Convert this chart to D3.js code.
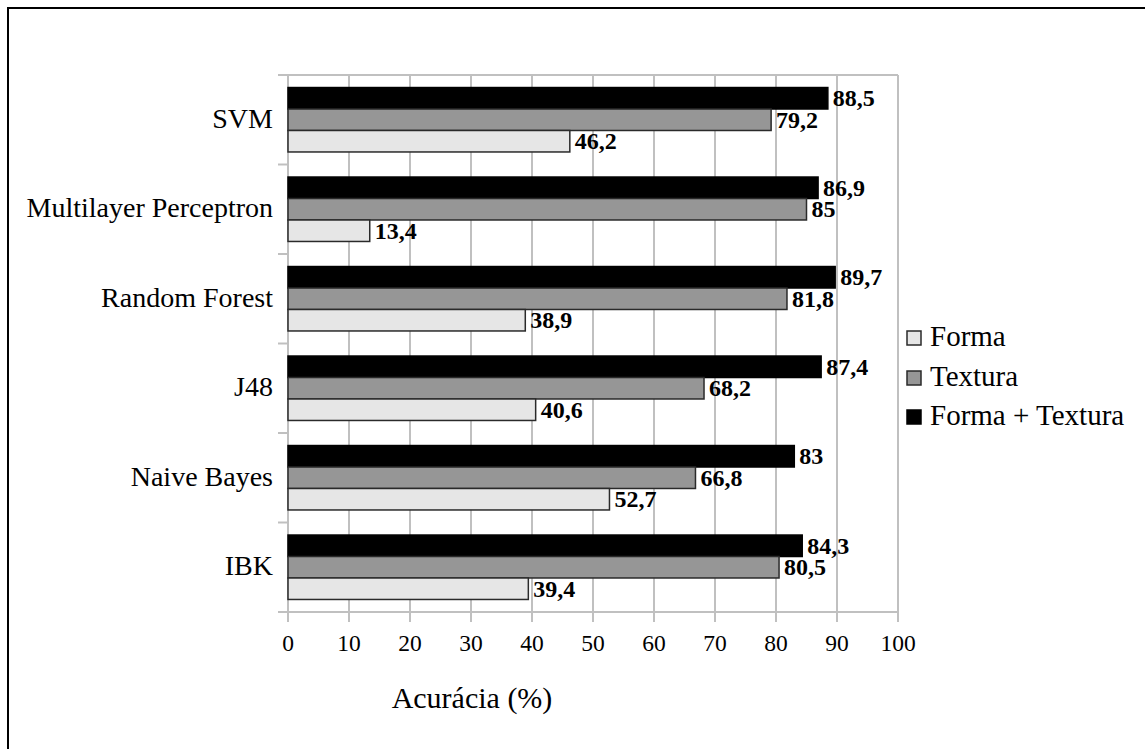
<!DOCTYPE html>
<html>
<head>
<meta charset="utf-8">
<script src="https://cdn.jsdelivr.net/npm/d3@7"></script>
<style>
  html, body { margin: 0; padding: 0; background: #fff; }
  svg { display: block; font-family: "Liberation Serif", "Times New Roman", serif; }
</style>
</head>
<body>
<svg id="chart" width="1145" height="749"></svg>
<script>
// Classifier accuracy (%) for each feature set
const categories = ["SVM", "Multilayer Perceptron", "Random Forest", "J48", "Naive Bayes", "IBK"];
const seriesNames = ["Forma + Textura", "Textura", "Forma"];
const formaTextura = [88.5, 86.9, 89.7, 87.4, 83, 84.3];
const textura = [79.2, 85, 81.8, 68.2, 66.8, 80.5];
const forma = [46.2, 13.4, 38.9, 40.6, 52.7, 39.4];
const xTicks = [0, 10, 20, 30, 40, 50, 60, 70, 80, 90, 100];
const legendOrder = ["Forma", "Textura", "Forma + Textura"];

const seriesValues = { "Forma + Textura": formaTextura, "Textura": textura, "Forma": forma };
const fills = { "Forma + Textura": "#000000", "Textura": "#969696", "Forma": "#e6e6e6" };
const strokes = { "Forma + Textura": "#000000", "Textura": "#2a2a2a", "Forma": "#2a2a2a" };

const svg = d3.select("#chart");
const plotLeft = 288, plotRight = 898, plotTop = 75, plotBottom = 612;
const gridColor = "#c0c0c0";

// frame around the figure
svg.append("rect").attr("x", 8).attr("y", 8).attr("width", 1200).attr("height", 800)
  .attr("fill", "none").attr("stroke", "#000").attr("stroke-width", 2);

const x = d3.scaleLinear().domain([0, 100]).range([plotLeft, plotRight]);
const y = d3.scaleBand().domain(categories).range([plotTop, plotBottom]).paddingInner(0).paddingOuter(0);
const bw = y.bandwidth();
const yInner = d3.scaleBand().domain(seriesNames).range([bw * 0.14, bw * 0.86]).padding(0);

// vertical gridlines
svg.append("g").selectAll("line").data(xTicks).join("line")
  .attr("x1", d => x(d)).attr("x2", d => x(d))
  .attr("y1", plotTop).attr("y2", plotBottom + 10)
  .attr("stroke", gridColor).attr("stroke-width", 2);

// top border and bottom axis line
svg.append("line").attr("x1", plotLeft - 10).attr("x2", plotRight).attr("y1", plotTop).attr("y2", plotTop)
  .attr("stroke", gridColor).attr("stroke-width", 2);
svg.append("line").attr("x1", plotLeft - 10).attr("x2", plotRight).attr("y1", plotBottom).attr("y2", plotBottom)
  .attr("stroke", gridColor).attr("stroke-width", 2);

// category separator ticks on the left
const bounds = categories.map(c => y(c)).concat([plotBottom]);
svg.append("g").selectAll("line").data(bounds).join("line")
  .attr("x1", plotLeft - 10).attr("x2", plotLeft).attr("y1", d => d).attr("y2", d => d)
  .attr("stroke", gridColor).attr("stroke-width", 2);

// bars
const rows = [];
categories.forEach((c, i) => seriesNames.forEach(s => rows.push({ c, s, v: seriesValues[s][i] })));

const g = svg.append("g");
g.selectAll("rect").data(rows).join("rect")
  .attr("x", x(0))
  .attr("y", d => y(d.c) + yInner(d.s))
  .attr("width", d => x(d.v) - x(0))
  .attr("height", yInner.bandwidth())
  .attr("fill", d => fills[d.s])
  .attr("stroke", d => strokes[d.s])
  .attr("stroke-width", 1.5);

// value labels
const fmt = v => String(v).replace(".", ",");
g.selectAll("text").data(rows).join("text")
  .attr("x", d => x(d.v) + 5)
  .attr("y", d => y(d.c) + yInner(d.s) + yInner.bandwidth() / 2 + 8)
  .attr("font-size", 24).attr("font-weight", "bold").attr("fill", "#000")
  .text(d => fmt(d.v));

// x tick labels
svg.append("g").selectAll("text").data(xTicks).join("text")
  .attr("x", d => x(d)).attr("y", 651)
  .attr("text-anchor", "middle").attr("font-size", 23.5).attr("fill", "#000")
  .text(d => d);

// category labels
svg.append("g").selectAll("text").data(categories).join("text")
  .attr("x", 273).attr("y", d => y(d) + bw / 2 + 8)
  .attr("text-anchor", "end").attr("font-size", 28).attr("fill", "#000")
  .text(d => d);

// axis title
svg.append("text").attr("x", 472).attr("y", 708)
  .attr("text-anchor", "middle").attr("font-size", 30).attr("fill", "#000")
  .text("Acurácia (%)");

// legend
const legendY = [338, 378, 417];
const lg = svg.append("g").selectAll("g").data(legendOrder).join("g")
  .attr("transform", (d, i) => `translate(907,${legendY[i]})`);
lg.append("rect").attr("x", 0).attr("y", -7).attr("width", 14).attr("height", 14)
  .attr("fill", d => fills[d]).attr("stroke", d => strokes[d]).attr("stroke-width", 1.5);
lg.append("text").attr("x", 23).attr("y", 8)
  .attr("font-size", 29).attr("fill", "#000")
  .text(d => d);
</script>
</body>
</html>
